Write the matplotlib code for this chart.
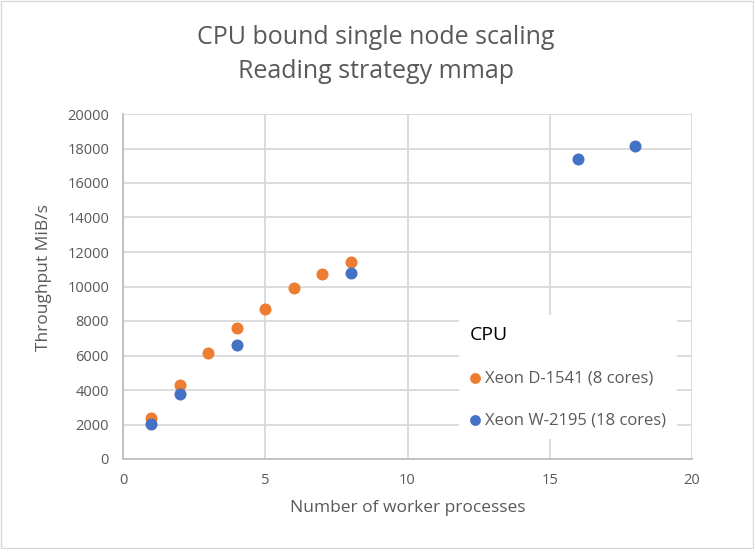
import matplotlib.pyplot as plt

plt.rcParams['font.family'] = ['Open Sans', 'DejaVu Sans']

# data
d1541_workers = [1, 2, 3, 4, 5, 6, 7, 8]
d1541_mibs = [2380, 4290, 6140, 7590, 8700, 9910, 10730, 11420]
w2195_workers = [1, 2, 4, 8, 16, 18]
w2195_mibs = [2030, 3770, 6610, 10780, 17390, 18150]

orange = '#ed7d31'
blue = '#4472c4'
grey_txt = '#595959'
grid_col = '#d9d9d9'

fig = plt.figure(figsize=(7.54, 5.49), dpi=100)
ax = fig.add_axes([123 / 754, 1 - 459 / 549, (692 - 123) / 754, (459 - 114) / 549])

ax.scatter(d1541_workers, d1541_mibs, s=75, color=orange, zorder=3,
           label='Xeon D-1541 (8 cores)', linewidths=0)
ax.scatter(w2195_workers, w2195_mibs, s=75, color=blue, zorder=3,
           label='Xeon W-2195 (18 cores)', linewidths=0)

ax.set_xlim(0, 20)
ax.set_ylim(0, 20000)
ax.set_xticks(range(0, 21, 5))
ax.set_yticks(range(0, 20001, 2000))
ax.grid(True, color=grid_col, linewidth=1.3)
ax.set_axisbelow(True)
for s in ['top', 'right']:
    ax.spines[s].set_visible(False)
for s in ['left', 'bottom']:
    ax.spines[s].set_color('#bfbfbf')
    ax.spines[s].set_linewidth(1.3)
ax.tick_params(length=0, labelsize=10.5, colors=grey_txt, pad=10)

ax.set_xlabel('Number of worker processes', fontsize=12.5, color=grey_txt, labelpad=9)
ax.set_ylabel('Throughput MiB/s', fontsize=12.5, color=grey_txt)
ax.yaxis.set_label_coords(-0.124, 0.525)

fig.text(0.499, 1 - 38 / 549, 'CPU bound single node scaling', ha='center', va='center',
         fontsize=18, color=grey_txt)
fig.text(0.499, 1 - 72 / 549, 'Reading strategy mmap', ha='center', va='center',
         fontsize=18, color=grey_txt)

leg = ax.legend(title='CPU', loc='upper left', bbox_to_anchor=(0.575, 0.441),
                frameon=True, fancybox=False, edgecolor='white', framealpha=1,
                fontsize=12, title_fontsize=14, labelcolor=grey_txt,
                handlelength=0.7, handletextpad=0.25, labelspacing=1.56,
                borderpad=0.65, markerscale=0.9, alignment='left')
leg.get_title().set_color('black')
leg.get_frame().set_linewidth(0)

border = plt.Rectangle((0.001, 0.001), 0.998, 0.998, transform=fig.transFigure,
                       fill=False, edgecolor='#d9d9d9', linewidth=1)
fig.patches.append(border)

fig.savefig('out.png', dpi=100)
